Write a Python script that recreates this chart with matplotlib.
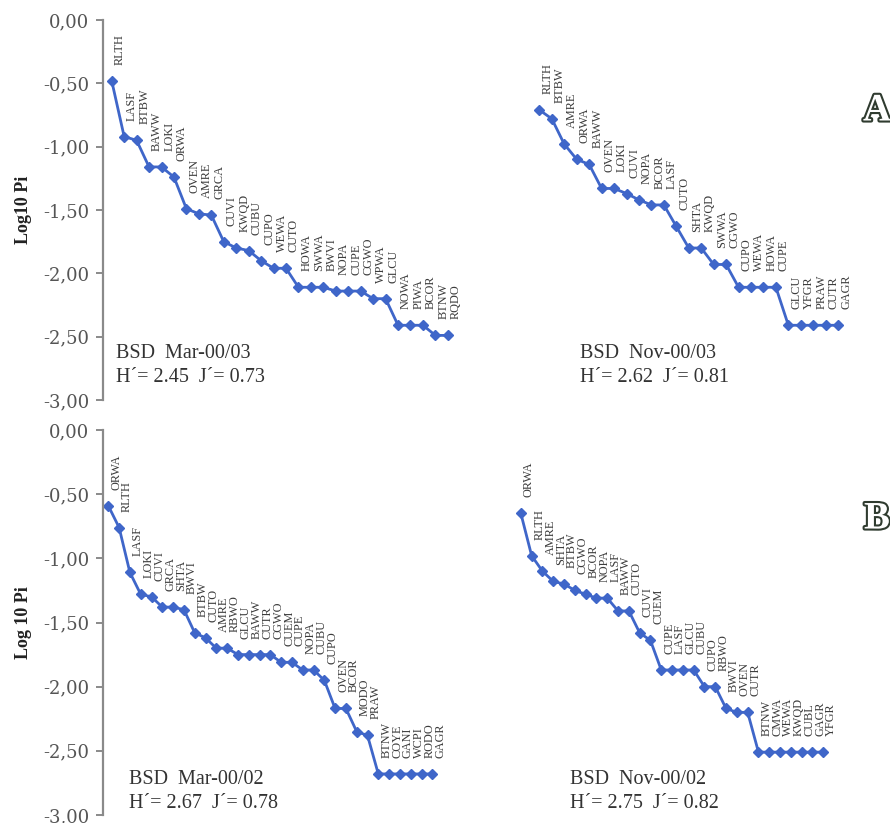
"""Rank-abundance curves (Log10 Pi) for BSD, two sampling years."""

import matplotlib
matplotlib.use("Agg")
import matplotlib.pyplot as plt
import matplotlib.patheffects as pe
from matplotlib.ticker import FuncFormatter, MultipleLocator

plt.rcParams["font.family"] = ["Liberation Serif", "DejaVu Serif"]

# ---- data: panel A (2003) ----
a_mar_sp = ["RLTH", "LASF", "BTBW", "BAWW", "LOKI", "ORWA", "OVEN", "AMRE",
            "GRCA", "CUVI", "KWQD", "CUBU", "CUPO", "WEWA", "CUTO", "HOWA",
            "SWWA", "BWVI", "NOPA", "CUPE", "CGWO", "WPWA", "GLCU", "NOWA",
            "PIWA", "BCOR", "BTNW", "RQDO"]
a_mar_val = [-0.48, -0.92, -0.95, -1.16, -1.16, -1.24, -1.49, -1.53, -1.54,
             -1.75, -1.80, -1.82, -1.90, -1.96, -1.96, -2.11, -2.11, -2.11,
             -2.14, -2.14, -2.14, -2.20, -2.20, -2.41, -2.41, -2.41, -2.49,
             -2.49]
a_nov_sp = ["RLTH", "BTBW", "AMRE", "ORWA", "BAWW", "OVEN", "LOKI", "CUVI",
            "NOPA", "BCOR", "LASF", "CUTO", "SHTA", "KWQD", "SWWA", "CGWO",
            "CUPO", "WEWA", "HOWA", "CUPE", "GLCU", "YFGR", "PRAW", "CUTR",
            "GAGR"]
a_nov_val = [-0.71, -0.78, -0.98, -1.10, -1.14, -1.33, -1.33, -1.37, -1.42,
             -1.46, -1.46, -1.63, -1.80, -1.80, -1.93, -1.93, -2.11, -2.11,
             -2.11, -2.11, -2.41, -2.41, -2.41, -2.41, -2.41]

# ---- data: panel B (2002) ----
b_mar_sp = ["ORWA", "RLTH", "LASF", "LOKI", "CUVI", "GRCA", "SHTA", "BWVI",
            "BTBW", "CUTO", "AMRE", "RBWO", "GLCU", "BAWW", "CUTR", "CGWO",
            "CUEM", "CUPE", "NOPA", "CUBU", "CUPO", "OVEN", "BCOR", "MODO",
            "PRAW", "BTNW", "COYE", "GANI", "WCPI", "RODO", "GAGR"]
b_mar_val = [-0.59, -0.76, -1.11, -1.28, -1.30, -1.38, -1.38, -1.40, -1.58,
             -1.62, -1.70, -1.70, -1.75, -1.75, -1.75, -1.75, -1.81, -1.81,
             -1.87, -1.87, -1.95, -2.17, -2.17, -2.35, -2.38, -2.68, -2.68,
             -2.68, -2.68, -2.68, -2.68]
b_nov_sp = ["ORWA", "RLTH", "AMRE", "SHTA", "BTBW", "CGWO", "BCOR", "NOPA",
            "LASF", "BAWW", "CUTO", "CUVI", "CUEM", "CUPE", "LASF", "GLCU",
            "CUBU", "CUPO", "RBWO", "BWVI", "OVEN", "CUTR", "BTNW", "CMWA",
            "WEWA", "KWQD", "CUBL", "GAGR", "YFGR"]
b_nov_val = [-0.65, -0.98, -1.10, -1.18, -1.20, -1.25, -1.28, -1.31, -1.31,
             -1.41, -1.41, -1.58, -1.64, -1.87, -1.87, -1.87, -1.87, -2.00,
             -2.00, -2.17, -2.20, -2.20, -2.51, -2.51, -2.51, -2.51, -2.51,
             -2.51, -2.51]

stats = {
    "a_mar": ("BSD  Mar-00/03", "H\u00b4= 2.45  J\u00b4= 0.73"),
    "a_nov": ("BSD  Nov-00/03", "H\u00b4= 2.62  J\u00b4= 0.81"),
    "b_mar": ("BSD  Mar-00/02", "H\u00b4= 2.67  J\u00b4= 0.78"),
    "b_nov": ("BSD  Nov-00/02", "H\u00b4= 2.75  J\u00b4= 0.82"),
}

BLUE = "#3f66c9"
GREY = "#555555"

W, H = 890, 823
fig = plt.figure(figsize=(W / 100, H / 100), dpi=100)
fig.patch.set_facecolor("white")


def comma(v, pos):
    if abs(v) < 1e-9:
        v = 0.0
    return f"{v:.2f}".replace(".", ",")


def panel(top_px, bot_px, step_px, first_px, nov_start, series, ylab,
          text_pos):
    left, right = 103, 860
    ax = fig.add_axes([left / W, 1 - bot_px / H, (right - left) / W,
                       (bot_px - top_px) / H])
    x0 = -(first_px - left) / step_px
    ax.set_xlim(x0, x0 + (right - left) / step_px)
    ax.set_ylim(-3, 0)
    ax.patch.set_alpha(0)
    for s in ("top", "right", "bottom"):
        ax.spines[s].set_visible(False)
    ax.spines["left"].set_color("#8a8a8a")
    ax.spines["left"].set_linewidth(1.6)
    ax.set_xticks([])
    ax.yaxis.set_major_locator(MultipleLocator(0.5))
    ax.yaxis.set_major_formatter(FuncFormatter(comma))
    ax.tick_params(axis="y", length=5, width=1.4, color="#8a8a8a",
                   labelsize=13, labelcolor=GREY, pad=5,
                   labelfontfamily="DejaVu Serif")
    ax.set_ylabel(ylab, fontsize=13, fontweight="bold", color="#222222",
                  labelpad=8)

    for (sp, val, key), start, (tx_px, ty_px) in zip(series, (0, nov_start),
                                                       text_pos):
        xs = [start + i for i in range(len(val))]
        ax.plot(xs, val, "-", color=BLUE, lw=2, marker="D", ms=5,
                mec=BLUE, mfc=BLUE)
        for x, y, name in zip(xs, val, sp):
            ax.annotate(name, (x, y), xytext=(8, 16),
                        textcoords="offset pixels", rotation=90,
                        ha="center", va="bottom", fontsize=8.8,
                        color="#3c3c3c")
        l1, l2 = stats[key]
        fx = tx_px / W
        fig.text(fx, 1 - ty_px / H, l1, fontsize=14.5, color="#333333",
                 va="center")
        fig.text(fx, 1 - (ty_px + 23) / H, l2, fontsize=14.5,
                 color="#333333", va="center")
    return ax


axA = panel(20, 400, 12.45, 111.7, 34.35,
            [(a_mar_sp, a_mar_val, "a_mar"), (a_nov_sp, a_nov_val, "a_nov")],
            "Log10 Pi", [(116, 354), (580, 354)])
axB = panel(430, 815, 10.8, 108.3, 38.2,
            [(b_mar_sp, b_mar_val, "b_mar"), (b_nov_sp, b_nov_val, "b_nov")],
            "Log 10 Pi", [(129, 780), (570, 780)])

for letter, ypx in (("A", 111), ("B", 519)):
    fig.text(877 / W, 1 - ypx / H, letter, fontsize=28, fontweight="bold",
             color="white", ha="center", va="center",
             path_effects=[pe.withStroke(linewidth=3, foreground="#2f3b2f")])

fig.savefig("out.png", dpi=100, facecolor="white")
print("saved")
